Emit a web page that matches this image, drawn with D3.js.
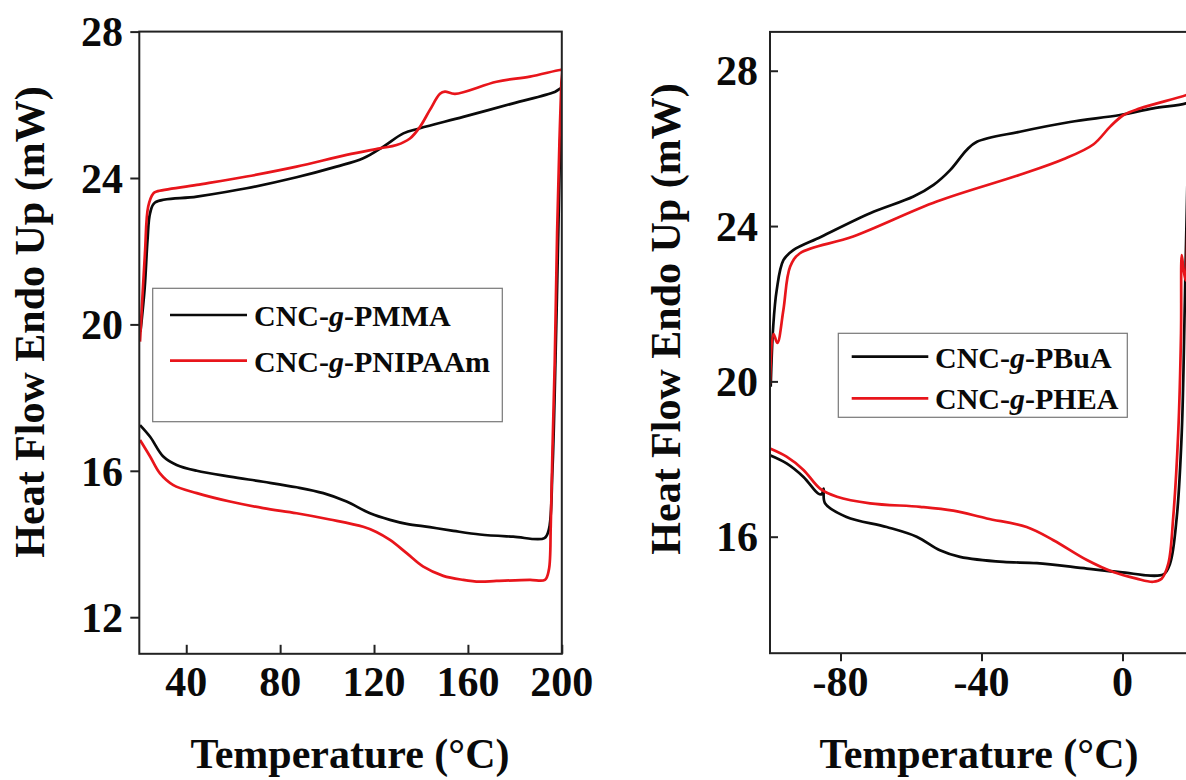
<!DOCTYPE html>
<html>
<head>
<meta charset="utf-8">
<script src="https://cdn.jsdelivr.net/npm/d3@7/dist/d3.min.js"></script>
<style>
  html, body { margin: 0; padding: 0; background: #fff; }
  svg { display: block; }
  text { font-family: "Liberation Serif", "Times New Roman", serif; font-weight: bold; fill: #0a0a0a; }
</style>
</head>
<body>
<svg id="chart" width="1186" height="780"></svg>
<script>
// ---------- DATA ----------
// Left panel: Temperature (°C) vs Heat Flow Endo Up (mW)
const leftXTicks = [40, 80, 120, 160, 200];
const leftYTicks = [12, 16, 20, 24, 28];
const pmma = [
  [20.3,17.25],[24.6,16.93],[30.2,16.39],[35.9,16.16],[44.5,16.0],[58.6,15.84],[72.8,15.70],
  [87,15.55],[98.4,15.39],[108.3,15.16],[118.3,14.84],[126.8,14.66],[133.9,14.55],[143.8,14.46],
  [153.8,14.36],[165.1,14.26],[179.3,14.20],[192.6,14.16],[194.5,14.4],[196,16],[197.3,19],
  [198.5,22.5],[199.5,25.5],[200,26.45],[197,26.35],[179.3,26.04],[158,25.67],[139.6,25.36],
  [132.5,25.22],[124,24.86],[115.4,24.54],[104,24.31],[87,24.02],[65.7,23.72],[44.5,23.49],
  [26.7,23.33],[24.6,23.04],[23.5,22.3],[22.3,21],[20.5,19.8]
];
const pnipaam = [
  [20.3,16.84],[24.6,16.39],[28.8,15.93],[34.5,15.61],[44.5,15.39],[58.6,15.16],[72.8,14.98],
  [87,14.84],[101.2,14.67],[115.4,14.47],[121,14.33],[126.8,14.11],[133.9,13.75],[141,13.38],
  [149.5,13.13],[158,13.02],[165,12.97],[172.2,12.99],[186.4,13.02],[192.8,13.02],[194.5,13.3],
  [195.3,14.5],[196,16.5],[197,19],[198,22.5],[199,25],[199.8,26.6],[200,26.95],
  [199.2,26.95],[186.4,26.77],[172.2,26.63],[154.5,26.3],[150.2,26.36],[148.1,26.3],[143.8,25.86],
  [139.6,25.4],[135.3,25.08],[129.6,24.9],[122.5,24.81],[108.3,24.63],[87,24.31],[65.7,24.04],
  [44.5,23.81],[27.4,23.63],[26,23.58],[23.8,23.22],[22.4,21.94],[20.3,19.53]
];
const leftNames = ["CNC-", "g", "-PMMA"];
const leftNames2 = ["CNC-", "g", "-PNIPAAm"];

// Right panel
const rightXTicks = [-80, -40, 0];
const rightYTicks = [16, 20, 24, 28];
const pbua = [
  [-100,18.1],[-95.3,17.89],[-90.5,17.54],[-86.3,17.11],[-85.3,17.1],[-84.8,17.24],[-84.4,16.86],
  [-78.3,16.51],[-66.9,16.25],[-58.4,16.0],[-51.8,15.65],[-46.1,15.48],[-33.8,15.35],[-24.3,15.32],
  [-10.1,15.18],[-0.7,15.09],[11.6,15.03],[13.5,15.31],[15.4,16.51],[16.8,18.66],[17.7,22.1],
  [18.5,25.5],[19.3,27.2],[20,27.25],[18,27.16],[8.7,27.03],[-0.7,26.86],[-14.9,26.68],[-29.1,26.43],
  [-41.3,26.17],[-44.2,25.96],[-48.9,25.44],[-53.6,25.06],[-59.3,24.76],[-71.6,24.33],[-85.6,23.72],
  [-93.4,23.38],[-96.2,23.12],[-98.1,22.35],[-99.1,21.4],[-99.8,19.86]
];
const phea = [
  [-100,18.27],[-95.3,18.06],[-90.5,17.72],[-85.8,17.24],[-81,17.03],[-71.6,16.86],[-57.4,16.77],
  [-48,16.67],[-38.5,16.47],[-27.2,16.25],[-19.6,15.91],[-10.1,15.4],[-2.6,15.09],[4,14.92],
  [8.7,14.84],[11.1,14.92],[13,15.31],[14.4,16.51],[15.8,18.66],[16.6,21.24],[16.8,23.25],
  [17.3,22.9],[17.9,22.6],[18.6,25],[19.5,27.4],[20,27.45],[18,27.37],[5,27.03],[0.3,26.86],
  [-3.5,26.56],[-8.3,26.1],[-16.8,25.72],[-29.1,25.32],[-52.7,24.63],[-76.4,23.73],[-91.5,23.3],
  [-94.3,22.95],[-96.2,21.84],[-97.9,20.99],[-99,21.22],[-100,19.94]
];
const rightNames = ["CNC-", "g", "-PBuA"];
const rightNames2 = ["CNC-", "g", "-PHEA"];

const xTitle = "Temperature (°C)";
const yTitle = "Heat Flow Endo Up (mW)";
const BLACK = "#0a0a0a", RED = "#e8151b";

// ---------- DRAW ----------
const svg = d3.select("#chart");
svg.append("rect").attr("width", 1186).attr("height", 780).attr("fill", "#fff");

function panel(cfg) {
  const x = d3.scaleLinear().domain(cfg.xDomain).range(cfg.xRange);
  const y = d3.scaleLinear().domain(cfg.yDomain).range(cfg.yRange);
  const g = svg.append("g");
  const id = "clip" + cfg.id;
  svg.append("defs").append("clipPath").attr("id", id).append("rect")
    .attr("x", cfg.xRange[0]).attr("y", cfg.yRange[1])
    .attr("width", cfg.xRange[1] - cfg.xRange[0]).attr("height", cfg.yRange[0] - cfg.yRange[1]);

  const line = d3.line().x(d => x(d[0])).y(d => y(d[1])).curve(d3.curveCatmullRom.alpha(0.5));
  const lines = g.append("g").attr("clip-path", `url(#${id})`);
  cfg.series.forEach(s => {
    lines.append("path").datum(s.data).attr("d", line)
      .attr("fill", "none").attr("stroke", s.color).attr("stroke-width", 2.7)
      .attr("stroke-linejoin", "round");
  });

  // Frame
  g.append("rect").attr("x", cfg.xRange[0]).attr("y", cfg.yRange[1])
    .attr("width", cfg.xRange[1] - cfg.xRange[0]).attr("height", cfg.yRange[0] - cfg.yRange[1])
    .attr("fill", "none").attr("stroke", "#222").attr("stroke-width", 2);

  // Y axis
  const yAxis = (cfg.yTickIn ? d3.axisRight(y) : d3.axisLeft(y))
    .tickValues(cfg.yTicks).tickSize(cfg.yTickLen).tickFormat("");
  g.append("g").attr("transform", `translate(${cfg.xRange[0]},0)`).call(yAxis)
    .call(a => { a.select(".domain").remove(); a.selectAll("line").attr("stroke", "#222").attr("stroke-width", 2); });
  g.selectAll(null).data(cfg.yTicks).enter().append("text")
    .attr("x", cfg.yLabelX).attr("y", d => y(d)).attr("dy", "0.35em")
    .attr("text-anchor", "end").style("font-size", "42px").text(d => d);

  // X axis
  const xAxis = (cfg.xTickIn ? d3.axisTop(x) : d3.axisBottom(x))
    .tickValues(cfg.xTicks).tickSize(cfg.xTickLen).tickFormat("");
  g.append("g").attr("transform", `translate(0,${cfg.yRange[0]})`).call(xAxis)
    .call(a => { a.select(".domain").remove(); a.selectAll("line").attr("stroke", "#222").attr("stroke-width", 2); });
  g.selectAll(null).data(cfg.xTicks).enter().append("text")
    .attr("x", d => x(d)).attr("y", 696).attr("text-anchor", "middle")
    .style("font-size", "42px").text(d => d);

  // Titles
  g.append("text").attr("x", cfg.xTitleX).attr("y", 768).attr("text-anchor", "middle")
    .style("font-size", "42px").text(xTitle);
  g.append("text").attr("transform", `translate(${cfg.yTitleX},${cfg.yTitleY}) rotate(-90)`)
    .attr("text-anchor", "middle").style("font-size", "42px").text(yTitle);

  // Legend
  const L = cfg.legend;
  g.append("rect").attr("x", L.x).attr("y", L.y).attr("width", L.w).attr("height", L.h)
    .attr("fill", "#fff").attr("stroke", "#777").attr("stroke-width", 1.2);
  cfg.series.forEach((s, i) => {
    const ly = L.lineY[i];
    g.append("line").attr("x1", L.lx1).attr("x2", L.lx2).attr("y1", ly).attr("y2", ly)
      .attr("stroke", s.color).attr("stroke-width", 2.7);
    const t = g.append("text").attr("x", L.tx).attr("y", ly + 11).style("font-size", "30px");
    s.name.forEach((part, j) => {
      t.append("tspan").style("font-style", j === 1 ? "italic" : "normal").text(part);
    });
  });
}

panel({
  id: "L", xDomain: [20, 200], xRange: [139.3, 561.8], yDomain: [11, 28], yRange: [653.8, 31.6],
  xTicks: leftXTicks, yTicks: leftYTicks, yTickIn: false, yTickLen: 9, xTickIn: true, xTickLen: 9,
  yLabelX: 123, xTitleX: 350, yTitleX: 44, yTitleY: 322,
  series: [{ data: pmma, color: BLACK, name: leftNames }, { data: pnipaam, color: RED, name: leftNames2 }],
  legend: { x: 152.7, y: 288.3, w: 349.6, h: 133.4, lx1: 170, lx2: 247, lineY: [315, 360.7], tx: 254 }
});

panel({
  id: "R", xDomain: [-100, 20], xRange: [770, 1193], yDomain: [13, 29], yRange: [653.2, 31.9],
  xTicks: rightXTicks, yTicks: rightYTicks, yTickIn: true, yTickLen: 8, xTickIn: false, xTickLen: 8,
  yLabelX: 758, xTitleX: 979, yTitleX: 680, yTitleY: 319,
  series: [{ data: pbua, color: BLACK, name: rightNames }, { data: phea, color: RED, name: rightNames2 }],
  legend: { x: 838.3, y: 333.3, w: 289, h: 84, lx1: 851.7, lx2: 928.3, lineY: [356.7, 398.3], tx: 935 }
});
</script>
</body>
</html>
